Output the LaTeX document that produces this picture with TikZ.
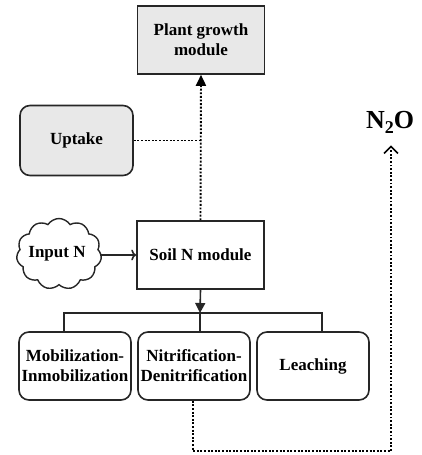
\documentclass[tikz,border=0pt]{standalone}
\usepackage{fontspec}
\setmainfont{Liberation Serif}
\usetikzlibrary{shapes.symbols,arrows.meta}

\newlength{\du}
\setlength{\du}{1pt}

\definecolor{boxgray}{rgb}{0.910000, 0.910000, 0.910000}
\definecolor{linegray}{rgb}{0.150000, 0.150000, 0.150000}

\tikzset{
  modtext/.style={font=\bfseries\fontsize{17}{20}\selectfont, align=center, text=black, inner sep=0pt},
  modbox/.style={modtext, draw=linegray, line width=1.6\du, minimum width=127\du, minimum height=68\du},
  procbox/.style={modtext, draw=linegray, line width=1.6\du, rounded corners=10\du, minimum width=112\du, minimum height=68\du},
  dotline/.style={draw=black, line width=1.9\du, dash pattern=on 1.9\du off 1.7\du},
  solidline/.style={draw=linegray, line width=1.6\du},
}

\begin{document}
\begin{tikzpicture}
\pgftransformxscale{1.000000}
\pgftransformyscale{-1.000000}
\useasboundingbox (0\du,0\du) rectangle (421\du,455\du);
% modules
\node[modbox, fill=boxgray] (plant) at (201\du,40\du) {Plant growth\\module};
\node[modbox] (soil) at (200.5\du,255\du) {Soil N module};
\node[procbox, fill=boxgray, minimum width=113\du, minimum height=70\du] (uptake) at (76.5\du,140.5\du) {Uptake};
% input cloud
\node[cloud, draw=linegray, line width=1.4\du, cloud puffs=11, cloud puff arc=115, minimum width=85\du, minimum height=71\du, inner sep=0pt] (input) at (59\du,254\du) {};
\node[modtext] (inputtext) at (57\du,254\du) {Input N};
% processes
\node[procbox] (mob) at (75\du,366\du) {Mobilization-\\Inmobilization};
\node[procbox] (nit) at (194\du,366\du) {Nitrification-\\Denitrification};
\node[procbox] (leach) at (313\du,366\du) {Leaching};
% emission
\node[font=\bfseries\fontsize{26}{28}\selectfont, inner sep=0pt] (n2o) at (390\du,122\du) {N\raisebox{-5pt}{\fontsize{18}{18}\selectfont 2}O};
\coordinate (bus) at (200\du,313\du);
\coordinate (n2oturn) at (391\du,451\du);

\draw[dotline, -{Triangle[length=11pt,width=10pt]}] (soil.north) -- (plant.south);
\draw[dotline] (uptake.east) -- (uptake.east -| soil.north);
\draw[solidline, -{To[length=5pt,width=11pt]}] (input.east |- soil.west) -- (soil.west);
\draw[solidline, -{Triangle[length=10pt,width=10pt]}] (soil.south) -- (bus);
\draw[solidline] ([xshift=-11\du]mob.north) |- (bus) -| ([xshift=9\du]leach.north);
\draw[solidline] (bus) -- (bus |- nit.north);
\draw[dotline, -{Straight Barb[length=7pt,width=14pt,line width=1.6pt]}, shorten >=12\du] ([xshift=-1\du]nit.south) |- (n2oturn) -- (n2oturn |- n2o.south);
\end{tikzpicture}
\end{document}
